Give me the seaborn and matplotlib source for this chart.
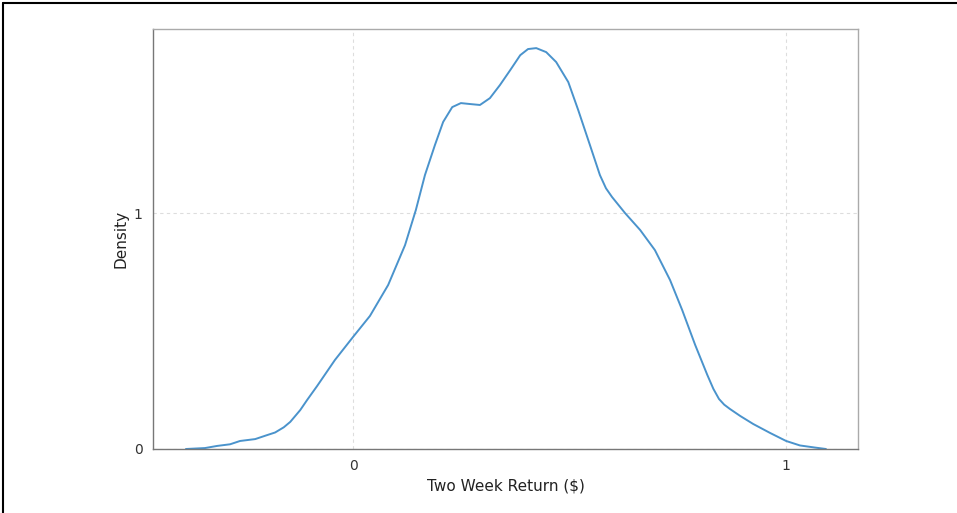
import matplotlib
matplotlib.use('Agg')
import matplotlib.pyplot as plt
import seaborn as sns
import pandas as pd
from matplotlib.lines import Line2D

# density curve
ret = [-0.386, -0.342, -0.314, -0.284, -0.261, -0.226, -0.200, -0.180, -0.160, -0.145,
       -0.122, -0.106, -0.083, -0.042, 0.000, 0.039, 0.081, 0.120, 0.145, 0.166,
       0.189, 0.208, 0.229, 0.249, 0.270, 0.293, 0.316, 0.339, 0.363, 0.386,
       0.404, 0.423, 0.446, 0.469, 0.497, 0.520, 0.547, 0.570, 0.584, 0.598,
       0.628, 0.663, 0.697, 0.732, 0.760, 0.790, 0.818, 0.832, 0.845, 0.857,
       0.870, 0.894, 0.924, 0.963, 1.000, 1.032, 1.067, 1.092]
density = [0.000, 0.004, 0.013, 0.020, 0.034, 0.042, 0.058, 0.070, 0.092, 0.115,
           0.165, 0.208, 0.267, 0.377, 0.475, 0.564, 0.695, 0.864, 1.013, 1.161,
           1.288, 1.386, 1.449, 1.466, 1.462, 1.458, 1.487, 1.542, 1.606, 1.669,
           1.695, 1.699, 1.682, 1.640, 1.555, 1.436, 1.288, 1.161, 1.105, 1.068,
           1.000, 0.928, 0.843, 0.716, 0.589, 0.441, 0.314, 0.255, 0.212, 0.188,
           0.170, 0.140, 0.106, 0.068, 0.034, 0.015, 0.006, 0.000]

df = pd.DataFrame({'Two Week Return ($)': ret, 'Density': density})

sns.set_style('white')
plt.rcParams['font.family'] = ['DejaVu Sans']

fig = plt.figure(figsize=(9.57, 5.13), dpi=100)
ax = fig.add_axes([153/957, 1 - 449/513, (858-153)/957, (449-29)/513])

sns.lineplot(data=df, x='Two Week Return ($)', y='Density', ax=ax,
             color='#4a93cc', linewidth=1.4, sort=False)

ax.set_xlim(-0.462, 1.166)
ax.set_ylim(0, 1.78)
ax.set_xticks([0, 1])
ax.set_yticks([0, 1])
ax.grid(True, linestyle=(0, (3, 3)), color='#dddddd', linewidth=0.8)
for s in ax.spines.values():
    s.set_color('#aaaaaa')
    s.set_linewidth(1.0)
ax.spines['left'].set_color('#777777')
ax.spines['bottom'].set_color('#777777')
ax.tick_params(axis='both', length=4, width=0.8, color='#777777',
               labelsize=10, labelcolor='#333333')
ax.set_xlabel('Two Week Return ($)', fontsize=11, color='#222222', labelpad=4)
ax.set_ylabel('Density', fontsize=11, color='#222222', labelpad=4)

# screenshot frame on top and left
fig.add_artist(Line2D([3/957, 1], [1 - 3/513, 1 - 3/513], color='black', linewidth=1.5))
fig.add_artist(Line2D([3/957, 3/957], [0, 1 - 3/513], color='black', linewidth=1.5))

fig.savefig('out.png', dpi=100)
